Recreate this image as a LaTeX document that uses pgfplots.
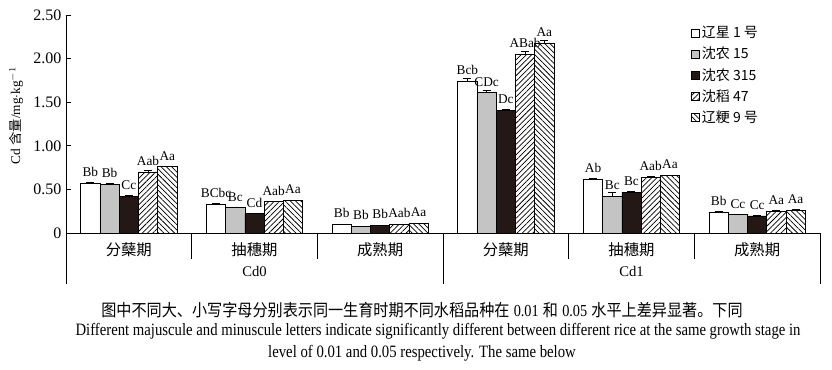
\documentclass[border=0pt]{standalone}
\usepackage{fontspec}
\setmainfont{Liberation Serif}
\newfontfamily\cjk{Noto Sans CJK SC}
\newfontfamily\capcjk[FakeStretch=0.9]{Noto Sans CJK SC}
\newfontfamily\capen[FakeStretch=0.85]{Liberation Serif}
\usepackage{pgfplots}
\pgfplotsset{compat=1.18}
\usetikzlibrary{patterns.meta}
\definecolor{barblack}{HTML}{231815}
\definecolor{bargray}{HTML}{C4C4C4}

\pgfplotstableread{
x y e l
0 0.57 0.010 Bb
1 0.33 0.005 BCbc
2 0.10 0.003 Bb
3 1.74 0.030 Bcb
4 0.62 0.005 Ab
5 0.24 0.005 Bb
}\tA
\pgfplotstableread{
x y e l
0 0.56 0.010 Bb
1 0.29 0.005 Bc
2 0.077 0.003 Bb
3 1.61 0.030 CDc
4 0.42 0.050 Bc
5 0.21 0.005 Cc
}\tB
\pgfplotstableread{
x y e l
0 0.42 0.010 Cc
1 0.22 0.005 Cd
2 0.088 0.003 Bb
3 1.41 0.010 Dc
4 0.47 0.010 Bc
5 0.195 0.010 Cc
}\tC
\pgfplotstableread{
x y e l
0 0.70 0.020 Aab
1 0.36 0.005 Aab
2 0.10 0.003 Aab
3 2.05 0.030 ABab
4 0.64 0.010 Aab
5 0.25 0.005 Aa
}\tD
\pgfplotstableread{
x y e l
0 0.76 0.005 Aa
1 0.375 0.005 Aa
2 0.11 0.003 Aa
3 2.18 0.030 Aa
4 0.66 0.005 Aa
5 0.26 0.010 Aa
}\tE

\pgfplotsset{eb/.style={error bars/.cd, y dir=plus, y explicit,
  error bar style={line width=0.5pt},
  error mark options={rotate=90, mark size=3pt, line width=0.5pt}}}

\begin{document}
\begin{tikzpicture}
\path[use as bounding box] (-49.5pt,-102.75pt) rectangle (574.5pt,174.75pt);
\begin{axis}[
  at={(0,0)}, anchor=south west,
  scale only axis, width=565.5pt, height=163.5pt,
  xmin=-0.5, xmax=5.5, ymin=0, ymax=2.5,
  axis x line*=bottom, axis y line*=left,
  axis line style={line width=0.6pt},
  xtick=\empty,
  ytick={0,0.5,1,1.5,2,2.5},
  yticklabels={0,0.50,1.00,1.50,2.00,2.50},
  yticklabel style={font=\fontsize{12}{12}\selectfont},
  tick align=inside, major tick length=3.75pt,
  tick style={line width=0.6pt, black},
  ybar=0pt, bar width=0.153,
  clip=false,
  point meta=explicit symbolic,
  nodes near coords,
  nodes near coords style={font=\fontsize{10}{10}\selectfont, inner sep=1pt, yshift=3.5pt, text=black},
  legend style={at={(0.828,0.962)}, anchor=north west, draw=none, fill=none,
    font=\cjk\fontsize{10.5}{12}\selectfont, row sep=1.6pt, inner sep=0pt},
  legend cell align=left,
  legend image code/.code={\draw[#1, line width=0.5pt] (0pt,-3pt) rectangle (6pt,3pt);},
  every axis plot/.append style={draw=black, line width=0.5pt},
]
\addplot[fill=white, eb] table[x=x, y=y, y error=e, meta=l] {\tA};
\addplot[fill=bargray, eb] table[x=x, y=y, y error=e, meta=l] {\tB};
\addplot[fill=barblack, eb] table[x=x, y=y, y error=e, meta=l] {\tC};
\addplot[fill=white, postaction={pattern={Lines[angle=45,distance=2.8pt,line width=0.55pt]}}, eb]
  table[x=x, y=y, y error=e, meta=l] {\tD};
\addplot[fill=white, postaction={pattern={Lines[angle=-45,distance=2.8pt,line width=0.55pt]}}, eb]
  table[x=x, y=y, y error=e, meta=l] {\tE};
\legend{辽星 1 号, 沈农 15, 沈农 315, 沈稻 47, 辽粳 9 号}

% separators
\draw[line width=0.6pt] (axis cs:-0.5,0) -- ++(0pt,-38.25pt);
\draw[line width=0.6pt] (axis cs:2.5,0) -- ++(0pt,-38.25pt);
\draw[line width=0.6pt] (axis cs:5.5,0) -- ++(0pt,-38.25pt);
\draw[line width=0.6pt] (axis cs:0.5,0) -- ++(0pt,-19.5pt);
\draw[line width=0.6pt] (axis cs:1.5,0) -- ++(0pt,-19.5pt);
\draw[line width=0.6pt] (axis cs:3.5,0) -- ++(0pt,-19.5pt);
\draw[line width=0.6pt] (axis cs:4.5,0) -- ++(0pt,-19.5pt);
% group labels
\node[font=\cjk\fontsize{11.5}{12}\selectfont] at ([yshift=-12.3pt]axis cs:0,0) {分蘖期};
\node[font=\cjk\fontsize{11.5}{12}\selectfont] at ([yshift=-12.3pt]axis cs:1,0) {抽穗期};
\node[font=\cjk\fontsize{11.5}{12}\selectfont] at ([yshift=-12.3pt]axis cs:2,0) {成熟期};
\node[font=\cjk\fontsize{11.5}{12}\selectfont] at ([yshift=-12.3pt]axis cs:3,0) {分蘖期};
\node[font=\cjk\fontsize{11.5}{12}\selectfont] at ([yshift=-12.3pt]axis cs:4,0) {抽穗期};
\node[font=\cjk\fontsize{11.5}{12}\selectfont] at ([yshift=-12.3pt]axis cs:5,0) {成熟期};
\node[font=\fontsize{11}{12}\selectfont] at ([yshift=-28.8pt]axis cs:1,0) {Cd0};
\node[font=\fontsize{11}{12}\selectfont] at ([yshift=-28.8pt]axis cs:4,0) {Cd1};
\end{axis}
% y label
\node[rotate=90, font=\fontsize{10}{12}\selectfont] at (-37.5pt,88pt) {Cd {\cjk 含量}/mg$\cdot$kg$^{-1}$};
% caption
\node[font=\fontsize{12.6}{13}\selectfont] at (267pt,-57.5pt) {{\capcjk 图中不同大、小写字母分别表示同一生育时期不同水稻品种在} {\capen 0.01} {\capcjk 和} {\capen 0.05} {\capcjk 水平上差异显著。下同}};
\node[font=\capen\fontsize{13}{13}\selectfont] at (279pt,-74pt) {Different majuscule and minuscule letters indicate significantly different between different rice at the same growth stage in};
\node[font=\capen\fontsize{13}{13}\selectfont] at (267pt,-90pt) {level of 0.01 and 0.05 respectively. The same below};
\end{tikzpicture}
\end{document}
